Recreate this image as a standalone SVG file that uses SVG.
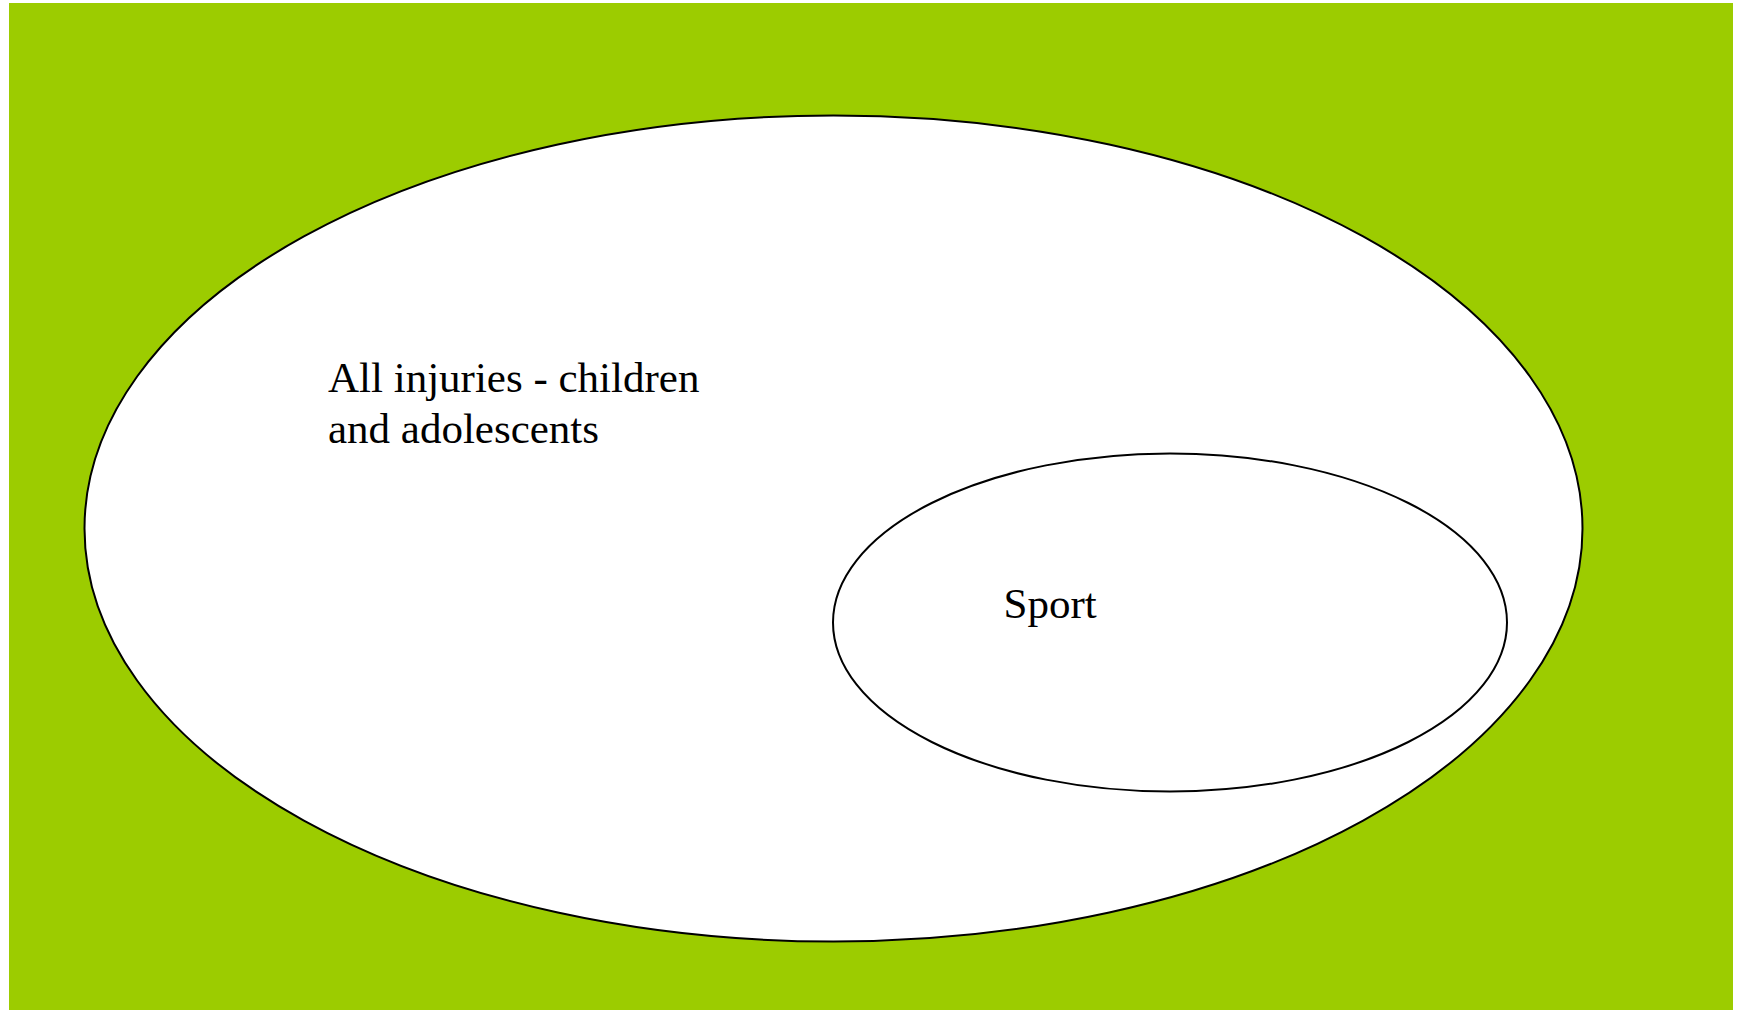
<svg xmlns="http://www.w3.org/2000/svg" width="1739" height="1010" viewBox="0 0 1739 1010">
<style>
.set{fill:#fff;stroke:#000;stroke-width:2}
.lbl{font-family:"Liberation Serif","Times New Roman",serif;font-size:43px;fill:#000}
</style>
<rect x="0" y="0" width="1739" height="1010" fill="#fff"/>
<rect x="9" y="3" width="1724" height="1007" fill="#9ccc00"/>
<g id="all-injuries">
<ellipse class="set" cx="833.5" cy="528.5" rx="749" ry="413"/>
<text class="lbl" x="328" y="392">All injuries - children</text>
<text class="lbl" x="328" y="443">and adolescents</text>
</g>
<g id="sport">
<ellipse class="set" cx="1170" cy="622.5" rx="337" ry="169"/>
<text class="lbl" x="1003.5" y="618">Sport</text>
</g>
<g id="connectors"></g>
</svg>
